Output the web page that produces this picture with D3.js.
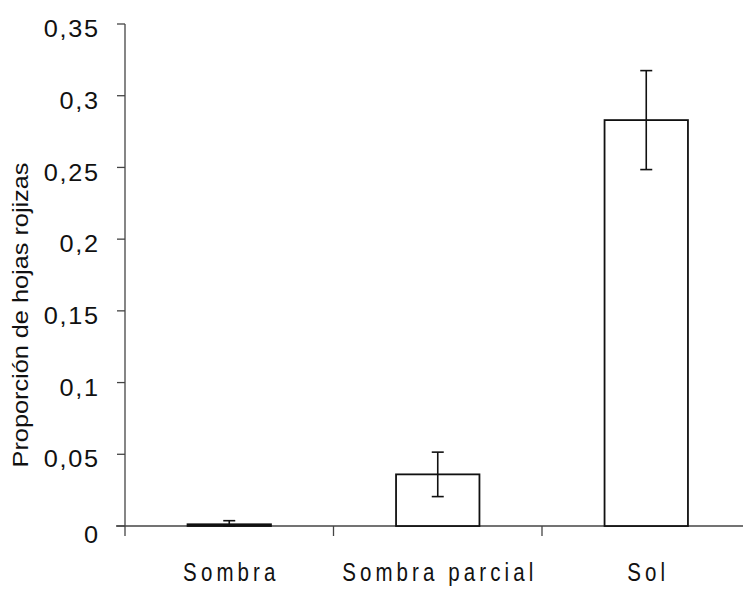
<!DOCTYPE html>
<html>
<head>
<meta charset="utf-8">
<script src="https://cdn.jsdelivr.net/npm/d3@7"></script>
<style>
  html, body { margin: 0; padding: 0; background: #fff; }
  svg { display: block; }
</style>
</head>
<body>
<div id="chart"></div>
<script>
// ---- data ----
const categories = ["Sombra", "Sombra parcial", "Sol"];
const means = [0.0012, 0.036, 0.283];
const errors = [0.0025, 0.0155, 0.0345];
const yTicks = [0, 0.05, 0.1, 0.15, 0.2, 0.25, 0.3, 0.35];
const yTickLabels = ["0", "0,05", "0,1", "0,15", "0,2", "0,25", "0,3", "0,35"];
const yTitle = "Proporción de hojas rojizas";

// ---- layout ----
const W = 743, H = 590;
const svg = d3.select("#chart").append("svg").attr("width", W).attr("height", H);

const x = d3.scaleBand().domain(categories).range([125, 750.5])
  .paddingInner(0.6).paddingOuter(0.3);
const y = d3.scaleLinear().domain([0, 0.35]).range([526, 24]);

const axisColor = "#444";
const font = "'Liberation Sans', Arial, sans-serif";

// Y axis line
svg.append("line").attr("x1", 125).attr("x2", 125).attr("y1", y(0.35)).attr("y2", y(0))
  .attr("stroke", axisColor).attr("stroke-width", 1.3);
// Y ticks + labels
yTicks.forEach((t, i) => {
  svg.append("line").attr("x1", 117).attr("x2", 125).attr("y1", y(t)).attr("y2", y(t))
    .attr("stroke", axisColor).attr("stroke-width", 1.3);
  const off = t === 0 ? 17 : 13.2;
  svg.append("text")
    .attr("transform", `translate(${98 + 1.5 * 1.1},${y(t) + off}) scale(1.1,1)`)
    .attr("text-anchor", "end").attr("font-family", font).attr("font-size", 23)
    .attr("letter-spacing", 1.5)
    .attr("fill", "#111").text(yTickLabels[i]);
});

// X axis line
svg.append("line").attr("x1", 116).attr("x2", 750).attr("y1", y(0)).attr("y2", y(0))
  .attr("stroke", axisColor).attr("stroke-width", 1.3);
// X boundary ticks
const step = x.step();
for (let i = 0; i <= categories.length; i++) {
  const xx = 125 + i * step;
  svg.append("line").attr("x1", xx).attr("x2", xx).attr("y1", y(0)).attr("y2", y(0) + 10)
    .attr("stroke", axisColor).attr("stroke-width", 1.3);
}
// Category labels
categories.forEach(c => {
  const cx = x(c) + x.bandwidth() / 2 + 2.5 * 0.82;
  svg.append("text")
    .attr("transform", `translate(${cx},581) scale(0.82,1)`)
    .attr("text-anchor", "middle").attr("font-family", font).attr("font-size", 25)
    .attr("letter-spacing", 5).attr("fill", "#111").text(c);
});

// Bars
svg.selectAll("rect.bar").data(categories).enter().append("rect")
  .attr("class", "bar")
  .attr("x", d => x(d))
  .attr("width", x.bandwidth())
  .attr("y", (d, i) => y(means[i]))
  .attr("height", (d, i) => y(0) - y(means[i]))
  .attr("fill", "#fff").attr("stroke", "#111").attr("stroke-width", 1.8);

// Error bars
categories.forEach((c, i) => {
  const cx = x(c) + x.bandwidth() / 2;
  const top = y(means[i] + errors[i]);
  const bot = y(Math.max(0, means[i] - errors[i]));
  const g = svg.append("g").attr("stroke", "#111").attr("stroke-width", 1.6);
  g.append("line").attr("x1", cx).attr("x2", cx).attr("y1", top).attr("y2", bot);
  g.append("line").attr("x1", cx - 6).attr("x2", cx + 6).attr("y1", top).attr("y2", top);
  g.append("line").attr("x1", cx - 6).attr("x2", cx + 6).attr("y1", bot).attr("y2", bot);
});

// Y title
svg.append("text").attr("transform", "translate(28,315) rotate(-90) scale(1.15,1)")
  .attr("text-anchor", "middle").attr("font-family", font).attr("font-size", 22)
  .attr("fill", "#111").text(yTitle);
</script>
</body>
</html>
